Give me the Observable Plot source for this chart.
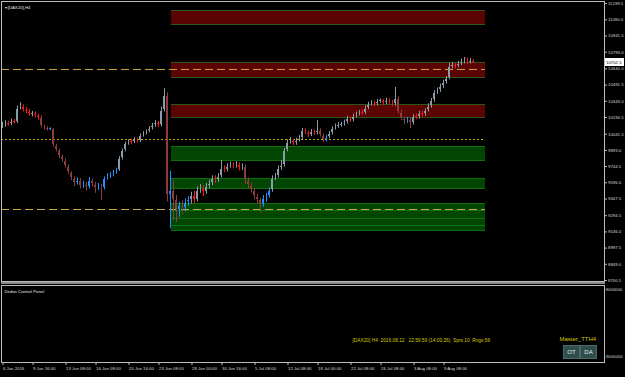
<!DOCTYPE html>
<html><head><meta charset="utf-8">
<script src="https://cdn.jsdelivr.net/npm/d3@7"></script>
<script src="https://cdn.jsdelivr.net/npm/@observablehq/plot@0.6"></script>
<style>
html,body{margin:0;padding:0;background:#000;}
#wrap{position:relative;width:625px;height:377px;background:#000;overflow:hidden;font-family:"Liberation Sans",Arial,sans-serif;}
#wrap svg{display:block;}
#sep{height:2px;background:#8a8a8a;width:604px;margin-left:1px;}
.btn{position:absolute;top:345px;width:15px;height:12px;background:#2f4f4f;border:1px solid #4b6b6b;color:#e6e6e6;font-size:6px;line-height:12px;text-align:center;}
</style></head><body><div id="wrap"></div>
<script>
// ---- data (DAX20, H4) ----
const opens=[10110,10121,10140,10130,10158,10150,10277,10295,10259,10250,
10222,10231,10204,10195,10112,10094,10085,10088,9938,9892,
9837,9801,9745,9691,9636,9590,9617,9562,9581,9553,
9617,9581,9544,9562,9544,9636,9654,9672,9691,9709,
9819,9892,9956,9975,9965,9993,9975,10030,10048,10066,
10094,10121,10149,10121,10259,10396,9480,9526,9435,9342,
9388,9361,9416,9435,9480,9435,9526,9544,9507,9562,
9590,9636,9617,9654,9727,9709,9745,9764,9745,9764,
9727,9745,9617,9571,9526,9470,9435,9388,9452,9470,
9526,9636,9654,9727,9755,9892,9965,9984,9956,9984,
10002,10075,10057,10030,10066,10048,10075,10030,9984,10011,
10048,10094,10112,10121,10130,10149,10185,10167,10204,10222,
10241,10231,10277,10314,10332,10314,10341,10345,10323,10350,
10332,10314,10369,10241,10185,10158,10176,10140,10204,10195,
10231,10222,10259,10295,10350,10424,10442,10479,10515,10552,
10662,10671,10662,10690,10699,10717,10699,10708];
const highs=[10150,10165,10160,10180,10175,10300,10330,10310,10285,10270,
10250,10245,10225,10210,10125,10110,10100,10095,9950,9905,
9850,9815,9760,9700,9650,9640,9635,9610,9600,9645,
9630,9600,9590,9580,9650,9680,9690,9710,9730,9835,
9905,9970,9990,9995,10010,10005,10045,10065,10080,10110,
10140,10165,10160,10290,10460,10420,9700,9620,9480,9420,
9430,9450,9470,9510,9520,9560,9580,9570,9590,9620,
9660,9660,9680,9800,9750,9770,9785,9780,9790,9780,
9770,9760,9640,9590,9545,9490,9455,9480,9500,9550,
9660,9680,9750,9800,9910,9990,10010,9995,10005,10030,
10095,10090,10070,10085,10080,10167,10090,10045,10030,10065,
10110,10135,10145,10150,10170,10205,10200,10225,10245,10260,
10265,10300,10335,10350,10345,10360,10365,10360,10370,10365,
10350,10470,10385,10260,10200,10195,10190,10220,10225,10250,
10250,10275,10320,10370,10440,10465,10500,10535,10570,10690,
10700,10690,10710,10730,10745,10740,10735,10725];
const lows=[10095,10105,10115,10120,10135,10140,10265,10245,10230,10205,
10200,10190,10170,10100,10080,10070,10075,9925,9880,9820,
9785,9730,9675,9615,9560,9575,9540,9545,9520,9540,
9560,9500,9525,9435,9530,9620,9635,9650,9675,9700,
9805,9880,9940,9945,9955,9960,9965,10015,10035,10055,
10080,10105,10100,10110,10245,9420,9175,9250,9232,9280,
9300,9330,9380,9400,9400,9420,9500,9470,9490,9540,
9570,9590,9600,9640,9690,9695,9730,9725,9730,9705,
9710,9580,9540,9500,9440,9400,9315,9370,9420,9455,
9510,9615,9640,9710,9740,9880,9950,9935,9940,9970,
9990,10040,10010,10020,10030,10035,10015,9965,9970,10000,
10035,10080,10095,10105,10115,10135,10150,10155,10190,10210,
10215,10220,10265,10300,10295,10300,10325,10305,10310,10315,
10295,10300,10225,10165,10130,10140,10094,10125,10175,10180,
10200,10205,10245,10280,10335,10405,10425,10460,10500,10540,
10640,10640,10650,10670,10685,10680,10685,10690];
const closes=[10121,10140,10130,10158,10149,10277,10295,10259,10250,10222,
10231,10204,10195,10112,10094,10085,10088,9938,9892,9837,
9801,9745,9691,9636,9590,9617,9562,9581,9553,9617,
9581,9544,9562,9544,9636,9654,9672,9691,9709,9819,
9892,9956,9975,9965,9993,9975,10030,10048,10066,10094,
10121,10149,10121,10259,10396,9480,9526,9435,9342,9388,
9361,9416,9435,9480,9435,9526,9544,9507,9562,9590,
9636,9617,9654,9727,9709,9745,9764,9745,9764,9727,
9745,9617,9571,9526,9470,9435,9388,9452,9470,9526,
9636,9654,9727,9755,9892,9965,9984,9956,9984,10002,
10075,10057,10030,10066,10048,10075,10030,9984,10011,10048,
10094,10112,10121,10130,10149,10185,10167,10204,10222,10241,
10231,10277,10314,10332,10314,10341,10345,10323,10350,10332,
10314,10369,10241,10185,10158,10176,10140,10204,10195,10231,
10222,10259,10295,10350,10424,10442,10479,10515,10552,10662,
10671,10662,10690,10699,10717,10699,10708,10699];
// bar ranges where the trend colouring is "down"
const downTrends=[[13,38],[55,62],[81,89],[106,108],[132,136]];

// supply / demand zones (price bands), from bar zoneStart to zoneEnd
const zoneLo=[11047,10561,10195,9800,9544,9342,9269,9205,9159];
const zoneHi=[11175,10699,10314,9929,9636,9406,9342,9269,9205];
const zoneKind=["supply","supply","supply","demand","demand","demand","demand","demand","demand"];
const zoneStart=56.3, zoneEnd=161;

// horizontal levels
const dashedLevels=[10635,9351];
const dottedLevels=[9993];

const lastPrice=10702.5;
const yTicks=[11239.5,11090.0,10941.5,10793.0,10640.0,10491.5,10343.0,10194.5,10041.5,9893.0,9744.5,9596.0,9447.5,9294.5,9146.0,8997.5,8849.0,8700.5];
const xTickIdx=[0,10,21,31,42,52,63,73,84,95,105,116,126,137,147];
const xTickLabels=["6 Jun 2016","9 Jun 16:00","13 Jun 08:00","16 Jun 08:00","20 Jun 16:00","23 Jun 08:00","28 Jun 00:00","30 Jun 16:00","5 Jul 08:00","12 Jul 08:00","18 Jul 00:00","22 Jul 08:00","26 Jul 08:00","3 Aug 08:00","9 Aug 08:00"];
const chartTitle="▾ [DAX20],H4";
const panelTitle="Dedos Control Panel";
const statusText="[DAX20] H4  2016.08.12   22:59:59 (14:00:26)  Sprs:10  Rngs:56";
const eaName="Master_TTH4";
const buttons=["OT","DA"];
const subTop="9000000", subBottom="-9000000";

// ---- build ----
const bars=closes.map((c,i)=>{
  const o=opens[i];
  const up=c>=o;
  const dn=downTrends.some(([a,b])=>i>=a&&i<=b);
  const color=up?(dn?"#1e90ff":"#8d9aa8"):(dn?"#8e3c3c":"#ff1414");
  return {i,o,h:highs[i],l:lows[i],c,lo:Math.min(o,c),hi:Math.max(o,c),color};
});
const zones=zoneLo.map((lo,k)=>({lo,hi:zoneHi[k],kind:zoneKind[k]}));

const xDomain=[-1/3,602/3];
const font="Liberation Sans, Arial, sans-serif";
const axisCol="#c8c8c8";
const fs=4.3;

const main=Plot.plot({
  width:625,height:282,marginLeft:1,marginRight:21,marginTop:1,marginBottom:1,
  style:{background:"#000",color:axisCol,fontFamily:font,fontSize:fs+"px",overflow:"visible"},
  x:{type:"linear",domain:xDomain,axis:null},
  y:{domain:[8691.3,11257.8],axis:null},
  marks:[
    Plot.rect(zones,{x1:zoneStart,x2:zoneEnd,y1:"lo",y2:"hi",fill:d=>d.kind==="supply"?"#5c0303":"#034603",shapeRendering:"crispEdges"}),
    Plot.ruleY(zones,{y:"hi",x1:zoneStart,x2:zoneEnd,stroke:d=>d.kind==="supply"?"#2c5a1c":"#107010"}),
    Plot.ruleY(zones,{y:"lo",x1:zoneStart,x2:zoneEnd,stroke:d=>d.kind==="supply"?"#2c5a1c":"#107010"}),
    Plot.ruleY(dashedLevels,{x1:xDomain[0],x2:zoneEnd,stroke:"#cfa84a",strokeDasharray:"8,4"}),
    Plot.ruleY(dottedLevels,{x1:xDomain[0],x2:zoneEnd,stroke:"#c8b000",strokeDasharray:"2,2"}),
    Plot.ruleX(bars,{x:"i",y1:"l",y2:"h",stroke:"color",strokeWidth:1}),
    Plot.ruleX(bars,{x:"i",y1:"lo",y2:"hi",stroke:"color",strokeWidth:2,dx:-0.5,insetTop:-0.6,insetBottom:-0.6,shapeRendering:"crispEdges"}),
    Plot.frame({stroke:"#bdbdbd"}),
    Plot.axisY(yTicks,{anchor:"right",tickSize:2,tickPadding:1.5,tickFormat:d=>d.toFixed(1),stroke:"#bdbdbd",fill:"#d8d8d8",fontSize:fs}),
    Plot.text([chartTitle],{frameAnchor:"top-left",dx:3,dy:4,fill:"#e6e6e6",textAnchor:"start",fontSize:fs}),
    (index,scales,values,dims)=>{
      const g=d3.create("svg:g");
      const yy=Math.round(scales.y(lastPrice));
      const x0=dims.width-dims.marginRight+1;
      g.append("rect").attr("x",x0).attr("y",yy-4).attr("width",19).attr("height",8).attr("fill","#ffffff");
      g.append("text").attr("x",x0+1).attr("y",yy).attr("dy","0.35em").attr("text-anchor","start")
        .attr("fill","#000").attr("font-size",fs).attr("font-family",font).text(lastPrice.toFixed(1));
      return g.node();
    }
  ]
});

const sub=Plot.plot({
  width:625,height:93,marginLeft:1,marginRight:21,marginTop:1,marginBottom:15,
  style:{background:"#000",color:axisCol,fontFamily:font,fontSize:fs+"px",overflow:"visible"},
  x:{type:"linear",domain:xDomain,axis:null},
  y:{domain:[0,1],axis:null},
  marks:[
    Plot.frame({stroke:"#bdbdbd"}),
    Plot.axisX(xTickIdx,{anchor:"bottom",tickSize:3,tickPadding:1,tickFormat:d=>xTickLabels[xTickIdx.indexOf(d)],textAnchor:"start",dx:0.5,stroke:"#bdbdbd",fill:"#d8d8d8",fontSize:fs}),
    Plot.text([panelTitle],{frameAnchor:"top-left",dx:3,dy:4,fill:"#e6e6e6",textAnchor:"start",fontSize:fs}),
    Plot.text([statusText],{frameAnchor:"top-left",dx:351,dy:53,fill:"#d4c400",textAnchor:"start",fontSize:4.8}),
    Plot.text([eaName],{frameAnchor:"top-left",dx:558,dy:51,fill:"#d4c400",textAnchor:"start",fontSize:6}),
    Plot.text([subTop],{frameAnchor:"top-right",dx:1,dy:2,fill:"#d8d8d8",textAnchor:"start",fontSize:fs}),
    Plot.text([subBottom],{frameAnchor:"bottom-right",dx:0,dy:-5,fill:"#d8d8d8",textAnchor:"start",fontSize:fs})
  ]
});

const wrap=document.getElementById("wrap");
wrap.appendChild(main);
const sep=document.createElement("div");sep.id="sep";wrap.appendChild(sep);
wrap.appendChild(sub);
buttons.forEach((b,k)=>{
  const el=document.createElement("div");
  el.className="btn";el.textContent=b;el.style.left=(563+k*17)+"px";
  wrap.appendChild(el);
});
</script></body></html>
